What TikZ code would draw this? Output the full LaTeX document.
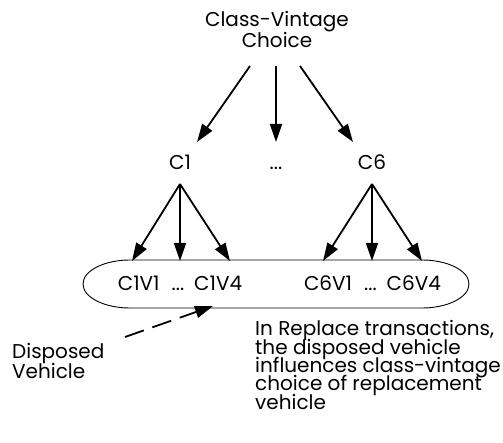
\documentclass[tikz,border=0pt]{standalone}
\usepackage{fontspec}
\setmainfont{Poppins}
\usetikzlibrary{arrows.meta}
% keep multi-line labels on a fixed baseline grid
\lineskiplimit=-100pt
\begin{document}
\begin{tikzpicture}[x=1pt,y=-1pt,
  txt/.style={inner sep=0pt, font=\fontsize{20}{21.5}\selectfont},
  note/.style={txt, align=left, font=\fontsize{20}{18.3}\selectfont},
  flow/.style={line width=1.8pt, -{Triangle[length=18pt,width=12pt]}},
  hint/.style={flow, dash pattern=on 20pt off 9pt},
  group/.style={line width=0.9pt}]
\useasboundingbox (0,0) rectangle (503,443);

% top-level choice and its alternatives (base = last line)
\node[txt, align=center, anchor=base] (cv) at (277,48) {Class-Vintage\\Choice};
\node[txt, anchor=base] (c1) at (180,170) {C1};
\node[txt, anchor=base] (cd) at (276,170) {...};
\node[txt, anchor=base] (c6) at (372,170) {C6};

\coordinate (cvl) at (250,66);
\coordinate (cvm) at (276,66);
\coordinate (cvr) at (300,66);
\coordinate (c1t) at (197,142);
\coordinate (cdt) at (276,142);
\coordinate (c6t) at (353,142);
\draw[flow] (cvl) -- (c1t);
\draw[flow] (cvm) -- (cdt);
\draw[flow] (cvr) -- (c6t);

% class-vintage group outline
\draw[group] (130,260) -- (422,260)
  arc[start angle=-90, end angle=90, x radius=47, y radius=24]
  -- (130,308)
  arc[start angle=90, end angle=270, x radius=47, y radius=24] -- cycle;
\node[txt, anchor=base] (v1) at (180,291) {C1V1\hspace{12pt}...\hspace{10pt}C1V4};
\node[txt, anchor=base] (v6) at (372.5,291) {C6V1\hspace{12pt}...\hspace{10pt}C6V4};

% branching from each class to its vintages
\coordinate (c1s) at (180,184);
\coordinate (c6s) at (372,184);
\coordinate (a1) at (132,261);
\coordinate (a2) at (180,261);
\coordinate (a3) at (230,261);
\coordinate (b1) at (323,261);
\coordinate (b2) at (372,261);
\coordinate (b3) at (422,261);
\foreach \t in {a1,a2,a3} \draw[flow] (c1s) -- (\t);
\foreach \t in {b1,b2,b3} \draw[flow] (c6s) -- (\t);

% disposed vehicle feeding back
\node[txt, align=left, anchor=base west, font=\fontsize{20}{20}\selectfont]
  (dv) at (12,378) {Disposed\\Vehicle};
\coordinate (dvs) at (125,337);
\coordinate (dvt) at (213,306);
\draw[hint] (dvs) -- (dvt);

\node[note, anchor=base west] (nt) at (255,409)
  {In Replace transactions,\\the disposed vehicle\\influences class-vintage\\choice of replacement\\vehicle};
\end{tikzpicture}
\end{document}
